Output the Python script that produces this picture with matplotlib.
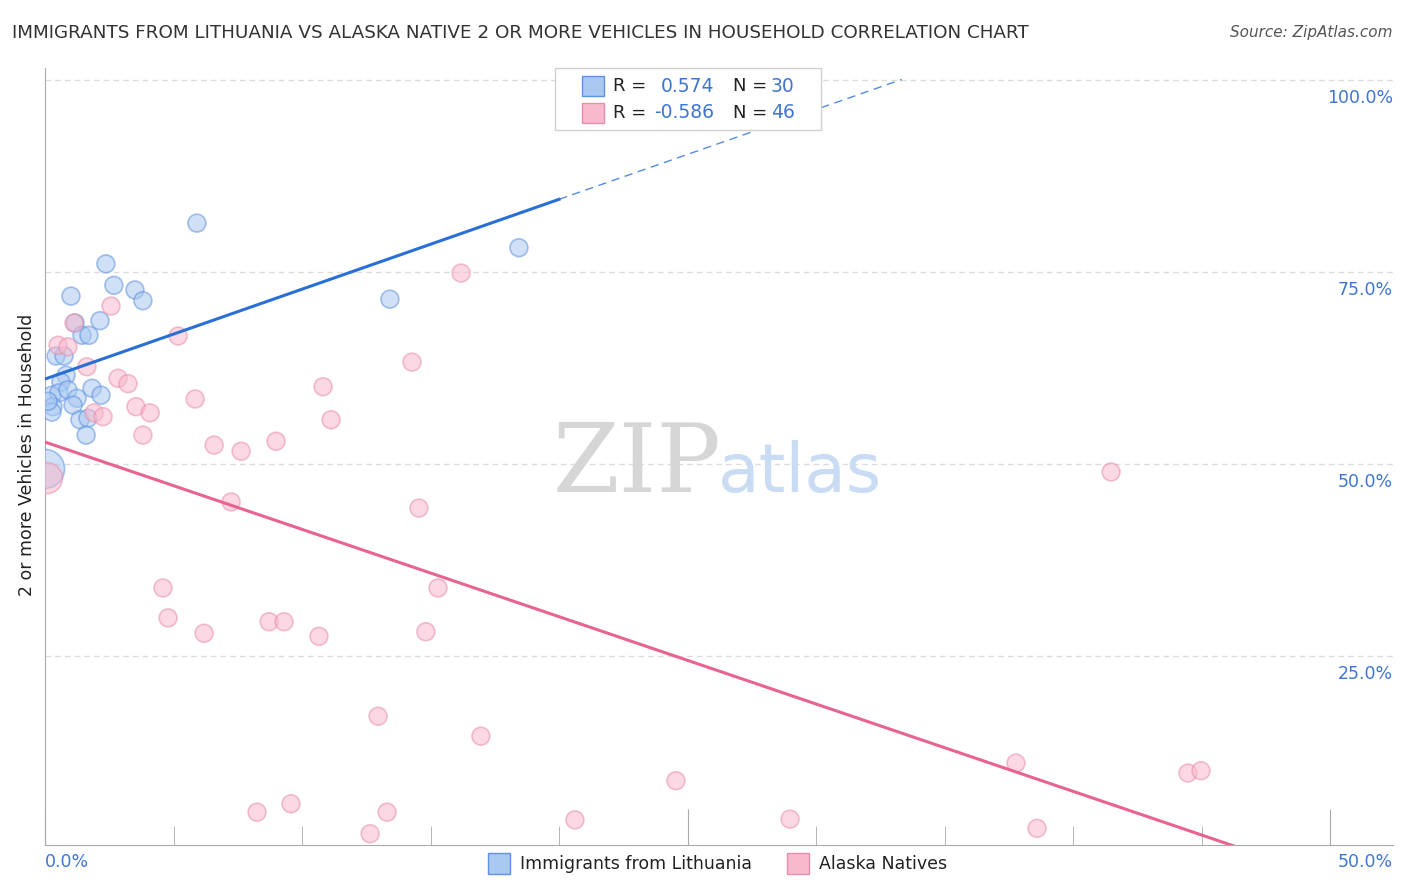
import matplotlib
matplotlib.use('Agg')
import matplotlib.pyplot as plt
from matplotlib.patches import Rectangle
import numpy as np

W, H = 1406, 892

# Immigrants from Lithuania (x = %, y = %)
lith_x = [5.91, 18.44, 2.37, 2.68, 3.50, 3.81, 1.01, 13.42, 1.17, 2.14,
          1.44, 1.71, 0.43, 0.74, 0.82, 0.62, 0.27, 0.54, 0.89, 1.25,
          1.09, 0.31, 0.27, 1.83, 2.18, 1.36, 1.67, 1.60, 0.0, 0.12]
lith_y = [81.3, 78.1, 76.0, 73.2, 72.6, 71.2, 71.8, 71.4, 68.3, 68.6,
          66.7, 66.7, 64.0, 64.0, 61.5, 60.6, 58.9, 59.2, 59.6, 58.5,
          57.6, 57.4, 56.7, 59.8, 58.9, 55.7, 55.9, 53.7, 49.3, 58.1]
lith_w = [1, 1, 1, 1, 1, 1, 1, 1, 1, 1,
          1, 1, 1, 1, 1, 1, 1, 1, 1, 1,
          1, 1, 1, 1, 1, 1, 1, 1, 4.8, 1]

# Alaska Natives
alaska_x = [0.51, 0.89, 1.13, 1.63, 2.84, 3.23, 1.91, 2.26, 3.54, 4.09,
            3.81, 2.57, 5.18, 5.84, 6.58, 7.63, 8.99, 10.82, 11.13, 14.28,
            16.19, 7.24, 14.55, 4.59, 4.79, 6.19, 8.72, 9.30, 10.66, 15.29,
            14.82, 12.96, 16.96, 24.55, 8.25, 9.57, 13.31, 12.65, 20.62, 28.99,
            38.6, 37.78, 44.47, 44.98, 41.48, 0.08]
alaska_y = [65.4, 65.2, 68.3, 62.6, 61.1, 60.4, 56.6, 56.1, 57.4, 56.6,
            53.7, 70.5, 66.6, 58.4, 52.4, 51.6, 52.9, 60.0, 55.7, 63.2,
            74.8, 45.0, 44.2, 33.8, 29.9, 27.9, 29.4, 29.4, 27.5, 33.8,
            28.1, 17.1, 14.5, 8.7, 4.6, 5.7, 4.6, 1.8, 3.6, 3.7,
            2.5, 11.0, 9.7, 10.0, 48.9, 48.1]
alaska_w = [1] * 45 + [3.0]

lith_r, lith_n = 0.574, 30
alaska_r, alaska_n = -0.586, 46

# trend lines: intercept, slope
lith_trend = [61.0, 1.17]
alaska_trend = [52.8, -1.137]
lith_fit_end = 20.0

blue_face = '#a9c8f2'
blue_edge = '#5e92de'
pink_face = '#f8b9cc'
pink_edge = '#e98eaa'
blue_line = '#2a6fd6'
pink_line = '#e8638f'
val_color = '#3f76d0'


def fx(px):
    return px / W


def fy(py):
    return 1 - py / H


fig = plt.figure(figsize=(W / 100, H / 100), dpi=100)
ax = fig.add_axes([fx(45), fy(845), fx(1393) - fx(45), fy(68) - fy(845)])
ax.set_xlim(0, 52.45)
ax.set_ylim(0.33, 101.5)

# grid
for g in [25, 50, 75, 100]:
    ax.axhline(g, color='#dcdcdc', lw=1, ls=(0, (4, 3)), zorder=0)

base = 165
ax.scatter(lith_x, lith_y, s=[base * w for w in lith_w], facecolor=blue_face,
           edgecolor=blue_edge, alpha=0.55, linewidths=1.2, zorder=3)
ax.scatter(alaska_x, alaska_y, s=[base * w for w in alaska_w], facecolor=pink_face,
           edgecolor=pink_edge, alpha=0.55, linewidths=1.2, zorder=3)

# trend lines
xs = np.array([0, lith_fit_end])
ax.plot(xs, lith_trend[0] + lith_trend[1] * xs, color=blue_line, lw=2.2, zorder=4)
x_top = (100 - lith_trend[0]) / lith_trend[1]
xs = np.array([lith_fit_end, x_top])
ax.plot(xs, lith_trend[0] + lith_trend[1] * xs, color=blue_line, lw=1, ls=(0, (6, 4)),
        alpha=0.8, zorder=4)
x_zero = -alaska_trend[0] / alaska_trend[1]
xs = np.array([0, x_zero])
ax.plot(xs, alaska_trend[0] + alaska_trend[1] * xs, color=pink_line, lw=2.2, zorder=4)

# spines and ticks
for s in ['top', 'right']:
    ax.spines[s].set_visible(False)
ax.spines['left'].set_color('#aaaaaa')
ax.spines['bottom'].set_color('#aaaaaa')
ax.set_xticks([0, 25, 50])
ax.set_xticks(np.arange(0, 51, 5), minor=True)
ax.tick_params(axis='x', which='major', direction='in', length=26, color='#aaaaaa',
               labelbottom=False)
ax.tick_params(axis='x', which='minor', direction='in', length=14, color='#aaaaaa')
ax.set_yticks([])

# tick labels as text
for g in [25, 50, 75, 100]:
    ax.annotate('%.1f%%' % g, xy=(1, g), xycoords=('axes fraction', 'data'),
                xytext=(0, -7), textcoords='offset points', ha='right', va='top',
                fontsize=12.5, color=val_color)
fig.text(fx(45), fy(862), '0.0%', ha='left', va='center', fontsize=12.5, color=val_color)
fig.text(fx(1393), fy(862), '50.0%', ha='right', va='center', fontsize=12.5, color=val_color)

fig.text(fx(27), fy(455), '2 or more Vehicles in Household', rotation=90, ha='center',
         va='center', fontsize=12.5, color='#222222')

# title
fig.text(fx(12), fy(33), 'IMMIGRANTS FROM LITHUANIA VS ALASKA NATIVE 2 OR MORE VEHICLES IN HOUSEHOLD CORRELATION CHART',
         ha='left', va='center', fontsize=13.2, color='#333333')
fig.text(fx(1393), fy(33), 'Source: ZipAtlas.com', ha='right', va='center', fontsize=11,
         style='italic', color='#555555')

# watermark
fig.text(fx(553), fy(492), 'ZIP', family='DejaVu Serif', fontsize=69, color='#d6d6d6',
         ha='left', va='baseline', zorder=0)
fig.text(fx(718), fy(492), 'atlas', fontsize=49, color='#c9dcf3', ha='left',
         va='baseline', zorder=0)

# top legend
fig.patches.append(Rectangle((fx(555), fy(130)), fx(821) - fx(555), fy(68) - fy(130),
                             transform=fig.transFigure, facecolor='white',
                             edgecolor='#d0d0d0', lw=1, zorder=5))
rows = [(86, blue_face, blue_edge, lith_r, lith_n), (113, pink_face, pink_edge, alaska_r, alaska_n)]
for py, fc, ec, r, n in rows:
    fig.patches.append(Rectangle((fx(582), fy(py + 10)), fx(22), 20 / H,
                                 transform=fig.transFigure, facecolor=fc,
                                 edgecolor=ec, lw=1, zorder=6))
    fig.text(fx(613), fy(py), 'R =', ha='left', va='center', fontsize=13,
             color='#222222', zorder=7)
    fig.text(fx(714), fy(py), '%.3f' % r, ha='right', va='center', fontsize=13.5,
             color=val_color, zorder=7)
    fig.text(fx(733), fy(py), 'N =', ha='left', va='center', fontsize=13,
             color='#222222', zorder=7)
    fig.text(fx(771), fy(py), '%d' % n, ha='left', va='center', fontsize=13.5,
             color=val_color, zorder=7)

# bottom legend
for px, fc, ec, label in [(488, blue_face, blue_edge, 'Immigrants from Lithuania'),
                          (787, pink_face, pink_edge, 'Alaska Natives')]:
    fig.patches.append(Rectangle((fx(px), fy(874)), fx(22), 21 / H,
                                 transform=fig.transFigure, facecolor=fc,
                                 edgecolor=ec, lw=1))
    fig.text(fx(px + 32), fy(864), label, ha='left', va='center', fontsize=12.5,
             color='#222222')

fig.savefig('out.png', dpi=100)
